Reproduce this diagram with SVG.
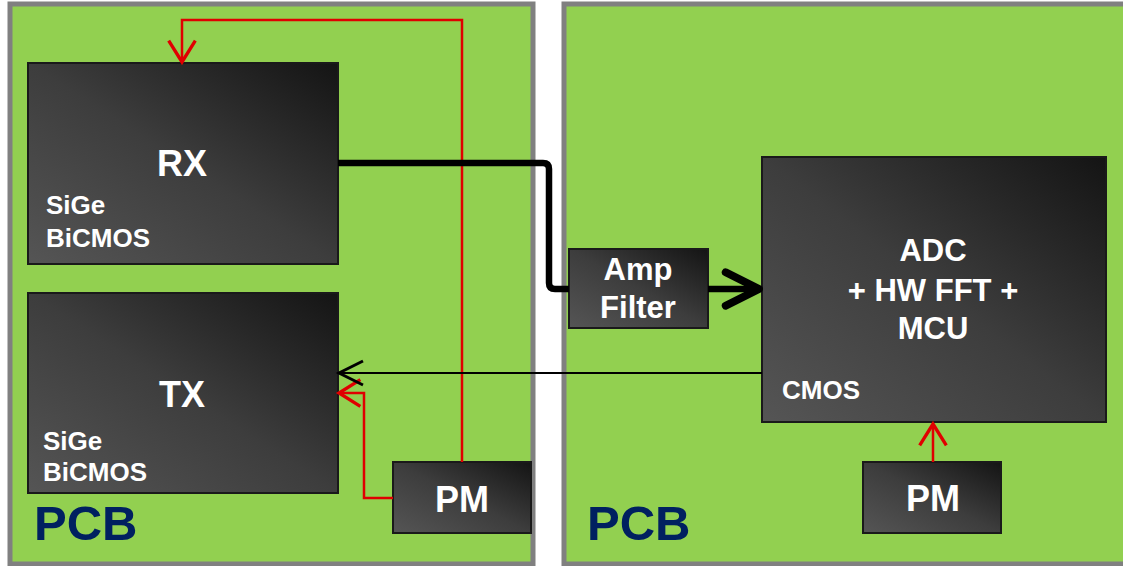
<svg xmlns="http://www.w3.org/2000/svg" width="1123" height="566" viewBox="0 0 1123 566">
<style>
.pcb{fill:#92D050;stroke:#808080;stroke-width:5}
.box{fill:url(#g);stroke:#1a1a1a;stroke-width:2}
.t{font-family:"Liberation Sans",Arial,sans-serif;font-weight:bold;fill:#fff}
.big{font-size:36px}
.mid{font-size:31px}
.sm{font-size:26px}
.pcbt{font-family:"Liberation Sans",Arial,sans-serif;font-weight:bold;font-size:49px;fill:#002060}
.red{fill:none;stroke:#E00000;stroke-width:2.5}
</style>
<defs>
<linearGradient id="g" x1="0" y1="1" x2="1" y2="0">
<stop offset="0" stop-color="#555555"/>
<stop offset="0.5" stop-color="#3d3d3d"/>
<stop offset="1" stop-color="#141414"/>
</linearGradient>
<marker id="ar" markerUnits="userSpaceOnUse" markerWidth="40" markerHeight="40" viewBox="-20 -15 25 30" refX="0" refY="0" orient="auto" overflow="visible">
<path d="M-16,-10 L0,0 L-16,10" fill="none" stroke="#E00000" stroke-width="2.5"/>
</marker>
<marker id="ab" markerUnits="userSpaceOnUse" markerWidth="40" markerHeight="40" viewBox="-20 -15 25 30" refX="0" refY="0" orient="auto" overflow="visible">
<path d="M-18,-9 L0,0 L-18,9" fill="none" stroke="#000" stroke-width="2.2"/>
</marker>
<marker id="abt" markerUnits="userSpaceOnUse" markerWidth="50" markerHeight="50" viewBox="-40 -20 45 40" refX="0" refY="0" orient="auto" overflow="visible">
<path d="M-30,-15 L0,0 L-30,15" fill="none" stroke="#000" stroke-width="7" stroke-linecap="round" stroke-linejoin="round"/>
</marker>
</defs>
<rect width="1123" height="566" fill="#fff"/>
<g id="pcb-left">
<rect class="pcb" x="10" y="4" width="523" height="560"/>
<text class="pcbt" x="34" y="540">PCB</text>
</g>
<g id="pcb-right">
<rect class="pcb" x="564" y="4" width="600" height="560"/>
<text class="pcbt" x="587" y="540">PCB</text>
</g>
<g id="rx">
<rect class="box" x="28" y="63" width="310" height="201"/>
<text class="t big" x="182" y="176" text-anchor="middle">RX</text>
<text class="t sm" x="46" y="214">SiGe</text>
<text class="t sm" x="46" y="247">BiCMOS</text>
</g>
<g id="tx">
<rect class="box" x="28" y="293" width="310" height="200"/>
<text class="t big" x="182" y="407" text-anchor="middle">TX</text>
<text class="t sm" x="43" y="450">SiGe</text>
<text class="t sm" x="43" y="481">BiCMOS</text>
</g>
<g id="pm-left">
<rect class="box" x="393" y="462" width="138" height="71"/>
<text class="t big" x="462" y="512" text-anchor="middle">PM</text>
</g>
<g id="amp">
<rect class="box" x="569" y="249" width="139" height="79"/>
<text class="t mid" x="638" y="280" text-anchor="middle">Amp</text>
<text class="t mid" x="638" y="318" text-anchor="middle">Filter</text>
</g>
<g id="adc">
<rect class="box" x="762" y="157" width="344" height="265"/>
<text class="t mid" x="933" y="261" text-anchor="middle">ADC</text>
<text class="t mid" x="933" y="301" text-anchor="middle">+ HW FFT +</text>
<text class="t mid" x="933" y="339" text-anchor="middle">MCU</text>
<text class="t sm" x="782" y="399">CMOS</text>
</g>
<g id="pm-right">
<rect class="box" x="863" y="462" width="138" height="71"/>
<text class="t big" x="933" y="511" text-anchor="middle">PM</text>
</g>
<g id="connectors">
<path class="red" d="M462,462 V20 H182 V62" marker-end="url(#ar)"/>
<path class="red" d="M393,498 H364 V393 H339" marker-end="url(#ar)"/>
<path class="red" d="M933,462 V424" marker-end="url(#ar)"/>
<path d="M762,373 H339" fill="none" stroke="#000" stroke-width="2.2" marker-end="url(#ab)"/>
<path d="M338,163 H543 Q549,163 549,169 V283 Q549,289 555,289 H569" fill="none" stroke="#000" stroke-width="6.5"/>
<path d="M708,289 H759" fill="none" stroke="#000" stroke-width="6.5" marker-end="url(#abt)"/>
</g>
</svg>
